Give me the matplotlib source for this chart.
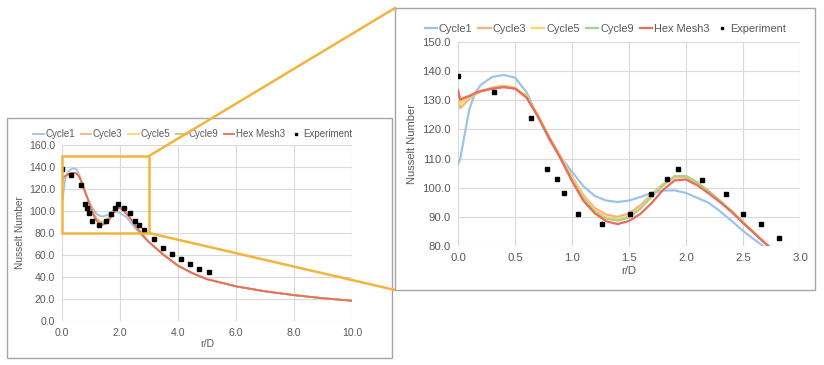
import numpy as np
import matplotlib
matplotlib.use("Agg")
import matplotlib.pyplot as plt
from matplotlib.patches import Rectangle, ConnectionPatch

plt.rcParams['font.family'] = ['Liberation Sans', 'DejaVu Sans']

# simulation curves
r_sim = [0.00, 0.02, 0.05, 0.10, 0.15, 0.20, 0.30, 0.40, 0.50, 0.60, 0.70, 0.80,
         0.90, 1.00, 1.10, 1.20, 1.30, 1.40, 1.50, 1.60, 1.70, 1.80, 1.90, 2.00,
         2.10, 2.20, 2.30, 2.40, 2.50, 2.60, 2.70, 2.80, 3.00, 3.50, 4.00, 4.50,
         5.00, 6.00, 7.00, 8.00, 9.00, 10.00]
cycle1 = [108.0, 110.0, 116.5, 127.0, 132.5, 135.3, 138.0, 138.7, 137.8, 132.8, 124.5, 116.5,
          110.5, 105.5, 100.5, 97.2, 95.6, 95.1, 95.6, 96.8, 98.2, 99.0, 99.1, 98.2,
          96.5, 94.8, 91.9, 88.6, 85.2, 82.2, 79.3, 76.5, 71.2, 60.0, 50.2, 43.4,
          38.0, 31.5, 27.0, 23.5, 20.7, 18.4]
cycle3 = [133.0, 127.3, 128.5, 130.5, 132.0, 133.0, 134.4, 135.0, 134.3, 131.5, 125.0, 117.5,
          110.8, 103.8, 97.5, 93.0, 90.8, 90.0, 91.2, 94.0, 97.8, 101.3, 103.5, 103.6,
          101.5, 98.6, 95.3, 91.8, 88.1, 84.4, 80.8, 77.5, 71.8, 60.2, 50.3, 43.4,
          38.0, 31.5, 27.0, 23.5, 20.7, 18.4]
cycle5 = [133.0, 128.8, 129.8, 131.0, 132.0, 133.0, 134.2, 134.8, 134.2, 131.5, 124.8, 117.3,
          110.5, 103.3, 97.0, 92.3, 90.0, 89.2, 90.3, 93.2, 97.3, 101.0, 103.8, 104.0,
          101.8, 98.8, 95.5, 92.0, 88.2, 84.5, 80.8, 77.5, 71.8, 60.2, 50.3, 43.4,
          38.0, 31.5, 27.0, 23.5, 20.7, 18.4]
cycle9 = [133.0, 130.0, 130.6, 131.3, 132.2, 133.0, 134.0, 134.6, 134.0, 131.2, 124.6, 117.0,
          110.2, 102.8, 96.5, 91.8, 89.4, 88.7, 89.8, 92.8, 97.0, 100.8, 104.0, 104.0,
          101.8, 98.8, 95.5, 92.0, 88.2, 84.5, 80.8, 77.5, 71.8, 60.2, 50.3, 43.4,
          38.0, 31.5, 27.0, 23.5, 20.7, 18.4]
hex_mesh3 = [133.5, 130.2, 130.8, 131.5, 132.5, 133.2, 134.0, 134.5, 134.0, 131.0, 124.5, 117.0,
             110.0, 102.3, 95.5, 91.2, 88.5, 87.5, 88.6, 91.0, 94.8, 99.3, 102.5, 102.8,
             100.8, 98.0, 95.0, 91.7, 87.9, 84.3, 80.7, 77.4, 71.8, 60.2, 50.3, 43.4,
             38.0, 31.5, 27.0, 23.5, 20.7, 18.4]

# experiment points
r_exp = [0.00, 0.32, 0.64, 0.78, 0.87, 0.93, 1.05, 1.26, 1.51, 1.69, 1.83, 1.93,
         2.14, 2.35, 2.50, 2.66, 2.82, 3.16, 3.48, 3.79, 4.11, 4.43, 4.74, 5.06]
nu_exp = [138.4, 133.0, 123.8, 106.4, 103.1, 98.2, 91.1, 87.7, 91.1, 97.7, 103.0, 106.4,
          102.5, 98.0, 91.1, 87.4, 82.7, 74.1, 66.8, 61.0, 56.2, 51.6, 47.7, 44.6]

series = [("Cycle1", cycle1, "#9DC3E6"),
          ("Cycle3", cycle3, "#F4B183"),
          ("Cycle5", cycle5, "#FFD966"),
          ("Cycle9", cycle9, "#A9D18E"),
          ("Hex Mesh3", hex_mesh3, "#EE6A5B")]

W, H = 824, 365
fig = plt.figure(figsize=(W / 100, H / 100), dpi=100)
fig.patch.set_facecolor("white")

TXT = "#595959"
GRID = "#D9D9D9"
ZOOM = "#F2B43C"


def px_rect(x0, y0, x1, y1):
    return [x0 / W, 1 - y1 / H, (x1 - x0) / W, (y1 - y0) / H]


def style(ax, fs):
    for s in ax.spines.values():
        s.set_visible(False)
    ax.grid(True, color=GRID, lw=0.8)
    ax.set_axisbelow(True)
    ax.tick_params(length=0, labelsize=fs, colors=TXT, pad=5)
    ax.yaxis.set_major_formatter(matplotlib.ticker.FormatStrFormatter("%.1f"))
    ax.xaxis.set_major_formatter(matplotlib.ticker.FormatStrFormatter("%.1f"))


def draw(ax, lw, ms):
    for name, vals, col in series:
        ax.plot(r_sim, vals, color=col, lw=lw, label=name)
    ax.plot(r_exp, nu_exp, ls="none", marker="s", ms=ms, color="black", label="Experiment")


# left chart frame
fig.add_artist(Rectangle((7 / W, 1 - 358 / H), 385 / W, 240 / H, transform=fig.transFigure,
                         fill=False, ec="#A6A6A6", lw=1.0, zorder=0.5))

ax1 = fig.add_axes(px_rect(62, 145, 352, 321), zorder=1)
style(ax1, 7.6)
draw(ax1, 1.3, 2.2)
ax1.set_xlim(0, 10)
ax1.set_ylim(0, 160)
ax1.set_xticks(np.arange(0, 10.1, 2))
ax1.set_yticks(np.arange(0, 160.1, 20))
ax1.set_xlabel("r/D", fontsize=7.6, color=TXT, labelpad=1)
ax1.set_ylabel("Nusselt Number", fontsize=7.3, color=TXT, labelpad=3)
ax1.legend(loc="lower center", bbox_to_anchor=(0.45, 1.0), ncol=6, frameon=False,
           fontsize=7.0, handlelength=1.1, handletextpad=0.15, columnspacing=0.6,
           labelcolor=TXT, borderaxespad=0.2, markerscale=0.8)

ax1.add_patch(Rectangle((0, 80), 3, 70, fill=False, ec=ZOOM, lw=1.8, clip_on=False, zorder=10))

# connector lines
for ya, yb in [(150, 8), (80, 290)]:
    con = ConnectionPatch(xyA=(3, ya), coordsA=ax1.transData,
                          xyB=(395 / W, 1 - yb / H), coordsB=fig.transFigure,
                          color=ZOOM, lw=1.8, zorder=2)
    fig.add_artist(con)

# right chart frame
fig.add_artist(Rectangle((395 / W, 1 - 290 / H), 420 / W, 282 / H, transform=fig.transFigure,
                         fc="white", ec="#A6A6A6", lw=1.0, zorder=3))

ax2 = fig.add_axes(px_rect(458, 42, 800, 246), zorder=4)
style(ax2, 8.2)
draw(ax2, 1.6, 2.6)
ax2.set_xlim(0, 3)
ax2.set_ylim(80, 150)
ax2.set_xticks(np.arange(0, 3.01, 0.5))
ax2.set_yticks(np.arange(80, 150.1, 10))
ax2.set_xlabel("r/D", fontsize=8.2, color=TXT, labelpad=2)
ax2.set_ylabel("Nusselt Number", fontsize=8.0, color=TXT, labelpad=4)
ax2.legend(loc="lower center", bbox_to_anchor=(0.43, 1.0), ncol=6, frameon=False,
           fontsize=7.9, handlelength=1.1, handletextpad=0.15, columnspacing=0.6,
           labelcolor=TXT, borderaxespad=0.3, markerscale=0.8)

fig.savefig("out.png", dpi=100)
